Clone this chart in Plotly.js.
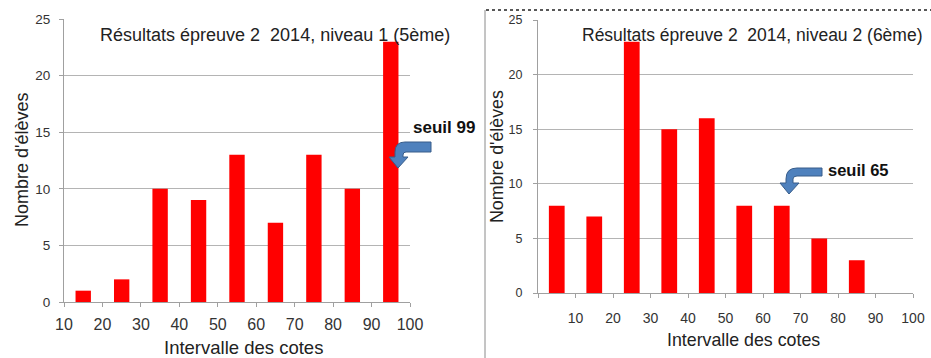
<!DOCTYPE html>
<html>
<head>
<meta charset="utf-8">
<script src="https://cdn.plot.ly/plotly-3.0.1.min.js"></script>
<style>html,body{margin:0;padding:0;background:#fff;}#chart{width:931px;height:358px;}</style>
</head>
<body>
<div id="chart"></div>
<script>
// Left chart: niveau 1 (5ème)
const leftCenters = [15, 25, 35, 45, 55, 65, 75, 85, 95];
const leftCounts  = [1, 2, 10, 9, 13, 7, 13, 10, 23];
const leftTicks   = [10, 20, 30, 40, 50, 60, 70, 80, 90, 100];
const leftTickText = ["10", "20", "30", "40", "50", "60", "70", "80", "90", "100"];

// Right chart: niveau 2 (6ème)
const rightCenters = [5, 15, 25, 35, 45, 55, 65, 75, 85];
const rightCounts  = [8, 7, 23, 15, 16, 8, 8, 5, 3];
const rightTicks   = [0, 10, 20, 30, 40, 50, 60, 70, 80, 90, 100];
const rightTickText = ["", "10", "20", "30", "40", "50", "60", "70", "80", "90", "100"];

const yTicks = [0, 5, 10, 15, 20, 25];

const titleLeft = "Résultats épreuve 2  2014, niveau 1 (5ème)";
const titleRight = "Résultats épreuve 2  2014, niveau 2 (6ème)";
const yTitle = "Nombre d'élèves";
const xTitle = "Intervalle des cotes";
const seuilLeft = "seuil 99";
const seuilRight = "seuil 65";

const W = 931, H = 358;
const FONT = "Liberation Sans, Arial, sans-serif";
function px(x) { return x / W; }
function py(y) { return 1 - y / H; }
function pathFromPixels(cmds) {
  return cmds.map(c => {
    const l = c[0];
    const pts = [];
    for (let i = 1; i < c.length; i += 2) pts.push(px(c[i]) + "," + py(c[i + 1]));
    return l + (pts.length ? " " + pts.join(" ") : "");
  }).join(" ");
}

const traces = [
  { type: "bar", x: leftCenters, y: leftCounts, width: 4, marker: { color: "#ff0000" },
    xaxis: "x", yaxis: "y", hoverinfo: "none" },
  { type: "bar", x: rightCenters, y: rightCounts, width: 4.2, marker: { color: "#ff0000" },
    xaxis: "x2", yaxis: "y2", hoverinfo: "none" }
];

const axisCommon = {
  showline: true, linecolor: "#a0a0a0", linewidth: 1,
  ticks: "outside", ticklen: 4, tickcolor: "#a0a0a0",
  zeroline: false, fixedrange: true
};

const layout = {
  width: W, height: H,
  margin: { l: 0, r: 0, t: 0, b: 0 },
  paper_bgcolor: "#ffffff", plot_bgcolor: "#ffffff",
  showlegend: false,
  font: { family: FONT, color: "#333" },
  xaxis: Object.assign({}, axisCommon, {
    domain: [px(64), px(410)], range: [10, 100], anchor: "y",
    tickmode: "array", tickvals: leftTicks, ticktext: leftTickText,
    showgrid: false, tickfont: { size: 16, color: "#333" }, ticklabelstandoff: 4
  }),
  yaxis: Object.assign({}, axisCommon, {
    domain: [py(302), py(19)], range: [0, 25], anchor: "x",
    tickmode: "array", tickvals: yTicks,
    showgrid: true, gridcolor: "#b4b4b4", gridwidth: 1,
    tickfont: { size: 13.5, color: "#333" }, ticklabelstandoff: 6
  }),
  xaxis2: Object.assign({}, axisCommon, {
    domain: [px(538), px(913)], range: [0, 100], anchor: "y2",
    tickmode: "array", tickvals: rightTicks, ticktext: rightTickText,
    showgrid: false, tickfont: { size: 14, color: "#333" }, ticklabelstandoff: 8
  }),
  yaxis2: Object.assign({}, axisCommon, {
    domain: [py(293), py(20)], range: [0, 25], anchor: "x2",
    tickmode: "array", tickvals: yTicks,
    showgrid: true, gridcolor: "#b4b4b4", gridwidth: 1,
    tickfont: { size: 12.5, color: "#333" }, ticklabelstandoff: 8
  }),
  annotations: [
    { text: titleLeft, xref: "paper", yref: "paper", x: px(275), y: py(35),
      xanchor: "center", yanchor: "middle", showarrow: false,
      font: { family: FONT, size: 18, color: "#222" } },
    { text: titleRight, xref: "paper", yref: "paper", x: px(752), y: py(35),
      xanchor: "center", yanchor: "middle", showarrow: false,
      font: { family: FONT, size: 17.5, color: "#222" } },
    { text: yTitle, xref: "paper", yref: "paper", x: px(22), y: py(160), textangle: -90,
      xanchor: "center", yanchor: "middle", showarrow: false,
      font: { family: FONT, size: 18, color: "#222" } },
    { text: yTitle, xref: "paper", yref: "paper", x: px(497), y: py(157), textangle: -90,
      xanchor: "center", yanchor: "middle", showarrow: false,
      font: { family: FONT, size: 17.8, color: "#222" } },
    { text: xTitle, xref: "paper", yref: "paper", x: px(243), y: py(347),
      xanchor: "center", yanchor: "middle", showarrow: false,
      font: { family: FONT, size: 18.5, color: "#222" } },
    { text: xTitle, xref: "paper", yref: "paper", x: px(743), y: py(340),
      xanchor: "center", yanchor: "middle", showarrow: false,
      font: { family: FONT, size: 17.8, color: "#222" } },
    { text: "<b>" + seuilLeft + "</b>", xref: "paper", yref: "paper", x: px(411), y: py(127),
      xanchor: "left", yanchor: "middle", showarrow: false,
      font: { family: FONT, size: 17, color: "#111" } },
    { text: "<b>" + seuilRight + "</b>", xref: "paper", yref: "paper", x: px(826), y: py(170),
      xanchor: "left", yanchor: "middle", showarrow: false,
      font: { family: FONT, size: 16.5, color: "#111" } }
  ],
  shapes: [
    { type: "line", xref: "paper", yref: "paper", x0: px(485), x1: px(485), y0: py(10), y1: py(358),
      line: { color: "#8a8a8a", width: 1 } },
    { type: "line", xref: "paper", yref: "paper", x0: px(486), x1: px(931), y0: py(10), y1: py(10),
      line: { color: "#222", width: 1.5, dash: "dot" } },
    { type: "path", xref: "paper", yref: "paper",
      path: pathFromPixels([
        ["M", 431, 142], ["L", 405, 142], ["Q", 395, 142, 395, 152], ["L", 395, 157],
        ["L", 389, 157], ["L", 398, 168], ["L", 408, 157], ["L", 403, 157],
        ["L", 403, 155], ["Q", 403, 152, 406, 152], ["L", 431, 152], ["Z"]
      ]),
      fillcolor: "#4f81bd", line: { color: "#385d8a", width: 1 } },
    { type: "path", xref: "paper", yref: "paper",
      path: pathFromPixels([
        ["M", 822, 168], ["L", 797, 168], ["Q", 786, 168, 786, 179], ["L", 786, 183],
        ["L", 780, 183], ["L", 789, 194], ["L", 799, 183], ["L", 793, 183],
        ["L", 793, 179], ["Q", 793, 176, 797, 176], ["L", 822, 176], ["Z"]
      ]),
      fillcolor: "#4f81bd", line: { color: "#385d8a", width: 1 } }
  ]
};

Plotly.newPlot("chart", traces, layout, { displayModeBar: false, staticPlot: true });
</script>
</body>
</html>
